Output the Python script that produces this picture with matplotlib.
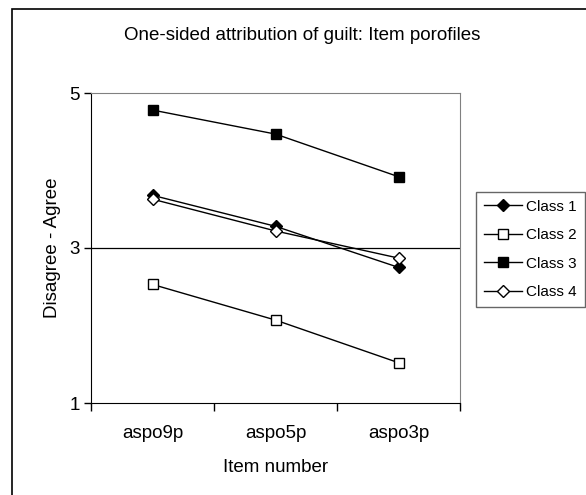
import matplotlib
matplotlib.use('Agg')
import matplotlib.pyplot as plt
from matplotlib.patches import Rectangle

plt.rcParams['font.family'] = ['Liberation Sans', 'DejaVu Sans']

# data
items = ['aspo9p', 'aspo5p', 'aspo3p']
class1 = [3.68, 3.28, 2.75]
class2 = [2.53, 2.07, 1.52]
class3 = [4.78, 4.47, 3.92]
class4 = [3.63, 3.22, 2.87]

W, H = 586, 495
fig = plt.figure(figsize=(W / 100, H / 100), dpi=100)

# outer chart frame (runs off the right and bottom edge)
fig.patches.append(Rectangle((12 / W, -0.1), 1.2, 1 - 9 / H + 0.1,
                             transform=fig.transFigure, fill=False,
                             edgecolor='black', linewidth=1.2))

ax = fig.add_axes([91 / W, 1 - 403 / H, 369 / W, 310 / H])

x = [i + 0.5 for i in range(len(items))]
ms = 7
ax.plot(x, class1, color='black', lw=1.0, marker='D', ms=ms - 1,
        mfc='black', mec='black', label='Class 1')
ax.plot(x, class2, color='black', lw=1.0, marker='s', ms=ms,
        mfc='white', mec='black', mew=1.0, label='Class 2')
ax.plot(x, class3, color='black', lw=1.0, marker='s', ms=ms,
        mfc='black', mec='black', label='Class 3')
ax.plot(x, class4, color='black', lw=1.0, marker='D', ms=ms - 1,
        mfc='white', mec='black', mew=1.0, label='Class 4')

ax.set_xlim(0, 3)
ax.set_ylim(1, 5)
ax.set_yticks([1, 3, 5])
ax.set_xticks([0, 1, 2, 3])
ax.set_xticklabels([])
ax.set_xticks(x, minor=True)
ax.set_xticklabels(items, minor=True)
ax.tick_params(axis='x', which='minor', length=0, labelsize=13.5, pad=16)
ax.tick_params(axis='x', which='major', length=6, width=1, color='black')
ax.tick_params(axis='y', length=5, width=1, labelsize=13.5, pad=3)

ax.axhline(3, color='black', lw=0.9, zorder=1)
ax.spines['top'].set_color('#808080')
ax.spines['right'].set_color('#808080')
ax.spines['left'].set_color('black')
ax.spines['bottom'].set_color('black')

ax.set_xlabel('Item number', fontsize=13.5, labelpad=12)
ax.set_ylabel('Disagree - Agree', fontsize=13.5, labelpad=6)

fig.text(302 / W, 1 - 35 / H, 'One-sided attribution of guilt: Item porofiles',
         ha='center', va='center', fontsize=13.5)

leg = ax.legend(loc='upper left', bbox_to_anchor=(476 / W, 1 - 192 / H),
                bbox_transform=fig.transFigure, borderaxespad=0,
                fontsize=11, frameon=True, fancybox=False, edgecolor='#404040',
                handlelength=2.5, labelspacing=0.95, handletextpad=0.3,
                borderpad=0.5)
leg.get_frame().set_linewidth(1.0)

fig.savefig('out.png', dpi=100)
